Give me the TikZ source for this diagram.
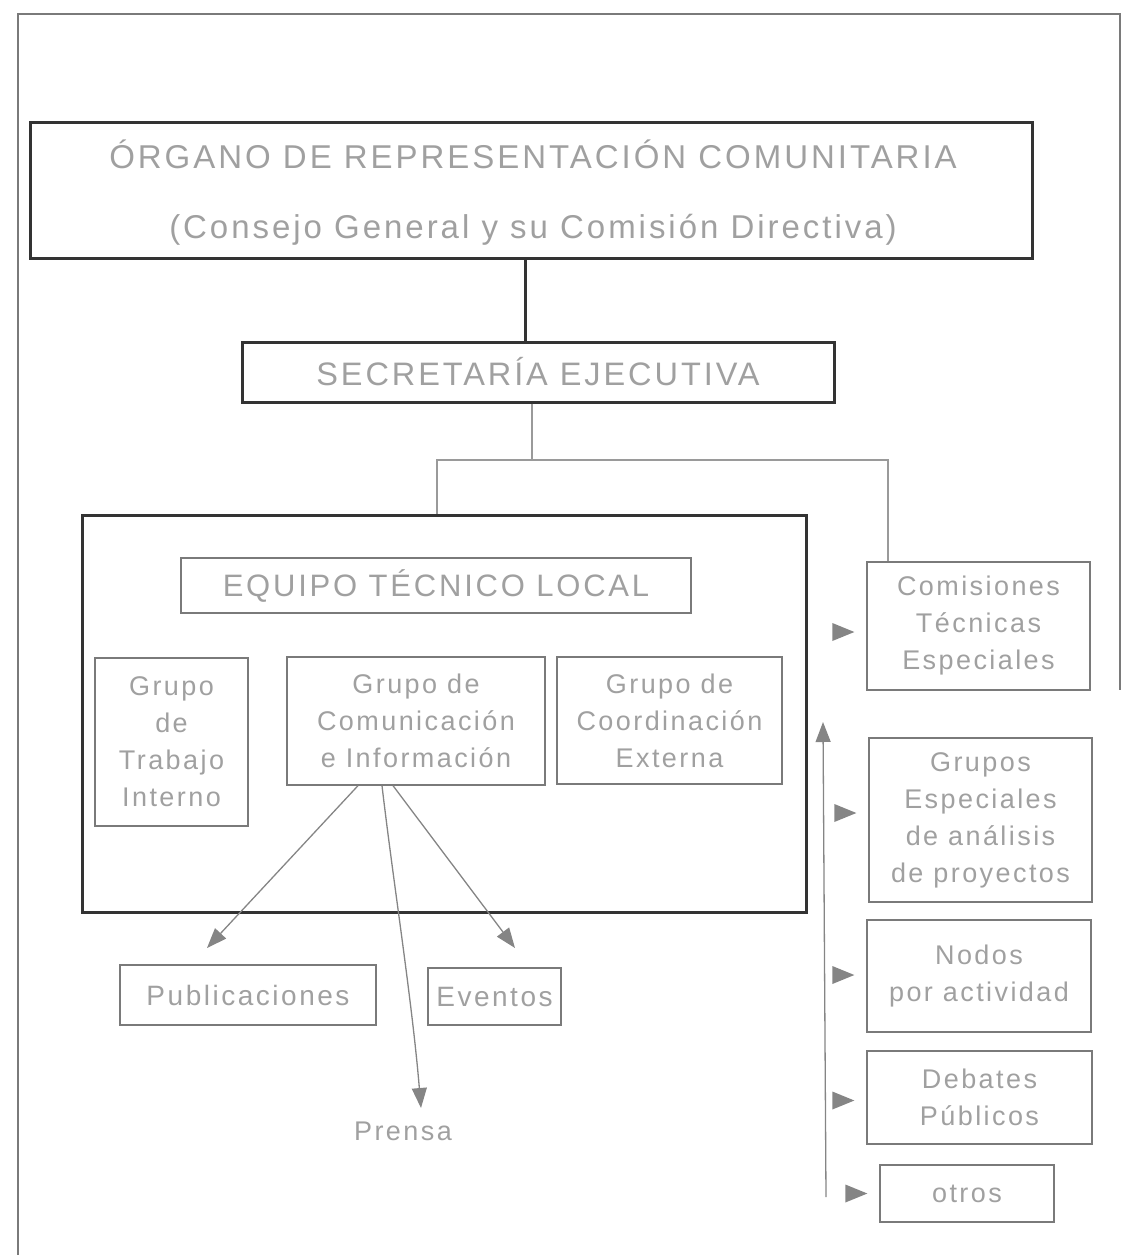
\documentclass[tikz,border=0pt]{standalone}
\usepackage{fontspec}
\setmainfont[LetterSpace=9]{Liberation Sans}
\usetikzlibrary{arrows.meta,calc}
\definecolor{txtc}{HTML}{A0A0A0}
\definecolor{thickc}{HTML}{333333}
\definecolor{thinc}{HTML}{7A7A7A}
\definecolor{linec}{HTML}{9A9A9A}
\definecolor{tipc}{HTML}{858585}
\newcommand\rtip[2]{\fill[tipc] ($(#1.west)+(-34,#2-9)$) -- ($(#1.west)+(-12,#2)$) -- ($(#1.west)+(-34,#2+9)$) -- cycle;}
\begin{document}
\begin{tikzpicture}[x=1pt,y=-1pt,
  thickbox/.style={draw=thickc,line width=3pt,inner sep=0pt},
  thinbox/.style={draw=thinc,line width=1.3pt,inner sep=0pt},
  txt/.style={text=txtc,align=center,font=\fontsize{27}{37}\selectfont},
  conn/.style={draw=linec,line width=1.3pt},
  arr/.style={conn,-{Triangle[length=20pt,width=15pt]},tipc}]
\useasboundingbox (0,0) rectangle (1124,1255);
% outer frame
\draw[draw=thinc,line width=1.5pt] (18,1255) -- (18,14) -- (1120,14) -- (1120,690);
% top levels
\node[thickbox,minimum width=1002pt,minimum height=136pt] (organo) at (531,190) {};
\node[txt,font=\fontsize{33}{70}\selectfont] (organotxt) at (533,193) {ÓRGANO DE REPRESENTACIÓN COMUNITARIA\\(Consejo General y su Comisión Directiva)};
\node[thickbox,minimum width=592pt,minimum height=60pt,txt,font=\fontsize{32.5}{37}\selectfont] (secre) at (538,372) {SECRETARÍA EJECUTIVA};
% container
\node[thickbox,minimum width=724pt,minimum height=397pt] (eqbox) at (444,713.5) {};
\node[thinbox,minimum width=510pt,minimum height=55pt,txt,font=\fontsize{31}{37}\selectfont] (etl) at (436,585.5) {EQUIPO TÉCNICO LOCAL};
\node[thinbox,minimum width=153pt,minimum height=168pt,txt] (gti) at (171.5,742) {Grupo\\de\\Trabajo\\Interno};
\node[thinbox,minimum width=258pt,minimum height=128pt,txt] (gci) at (416,721) {Grupo de\\Comunicación\\e Información};
\node[thinbox,minimum width=225pt,minimum height=127pt,txt] (gce) at (669.5,720.5) {Grupo de\\Coordinación\\Externa};
% outputs
\node[thinbox,minimum width=256pt,minimum height=60pt,txt,font=\fontsize{28}{37}\selectfont] (pub) at (248,995) {Publicaciones};
\node[thinbox,minimum width=133pt,minimum height=57pt,txt,font=\fontsize{28}{37}\selectfont] (eve) at (494.5,996.5) {Eventos};
\node[txt] (prensa) at (403,1131) {Prensa};
% right column
\node[thinbox,minimum width=223pt,minimum height=128pt,txt] (com) at (978.5,626) {Comisiones\\Técnicas\\Especiales};
\node[thinbox,minimum width=223pt,minimum height=164pt,txt] (grupos) at (980.5,820) {Grupos\\Especiales\\de análisis\\de proyectos};
\node[thinbox,minimum width=224pt,minimum height=112pt,txt] (nodos) at (979,976) {Nodos\\por actividad};
\node[thinbox,minimum width=225pt,minimum height=93pt,txt] (debates) at (979.5,1097.5) {Debates\\Públicos};
\node[thinbox,minimum width=174pt,minimum height=57pt,txt] (otros) at (967,1193.5) {otros};
% connectors
\draw[draw=thickc,line width=3pt] ($(organo.south)+(-6,0)$) -- ($(secre.north)+(-13,0)$);
\coordinate (jm) at (532,460);
\coordinate (jl) at (437,460);
\coordinate (jr) at (888,460);
\draw[conn] (jm |- secre.south) -- (jm);
\draw[conn] (jl |- eqbox.north) -- (jl) -- (jr) -- (jr |- com.north);
\coordinate (tpub) at (207,948);
\coordinate (teve) at (515,948);
\coordinate (tprensa) at (421,1108);
\draw[arr] ($(gci.south)+(-58,0)$) -- (tpub);
\draw[arr] ($(gci.south)+(-23,0)$) -- (teve);
\draw[arr] ($(gci.south)+(-34,0)$) .. controls (393,880) and (412,1000) .. (tprensa);
\coordinate (vb) at (826,1197);
\coordinate (vt) at (823,722);
\draw[arr] (vb) -- (vt);
\rtip{com}{6}
\rtip{grupos}{-7}
\rtip{nodos}{-1}
\rtip{debates}{3}
\rtip{otros}{0}
\end{tikzpicture}
\end{document}
